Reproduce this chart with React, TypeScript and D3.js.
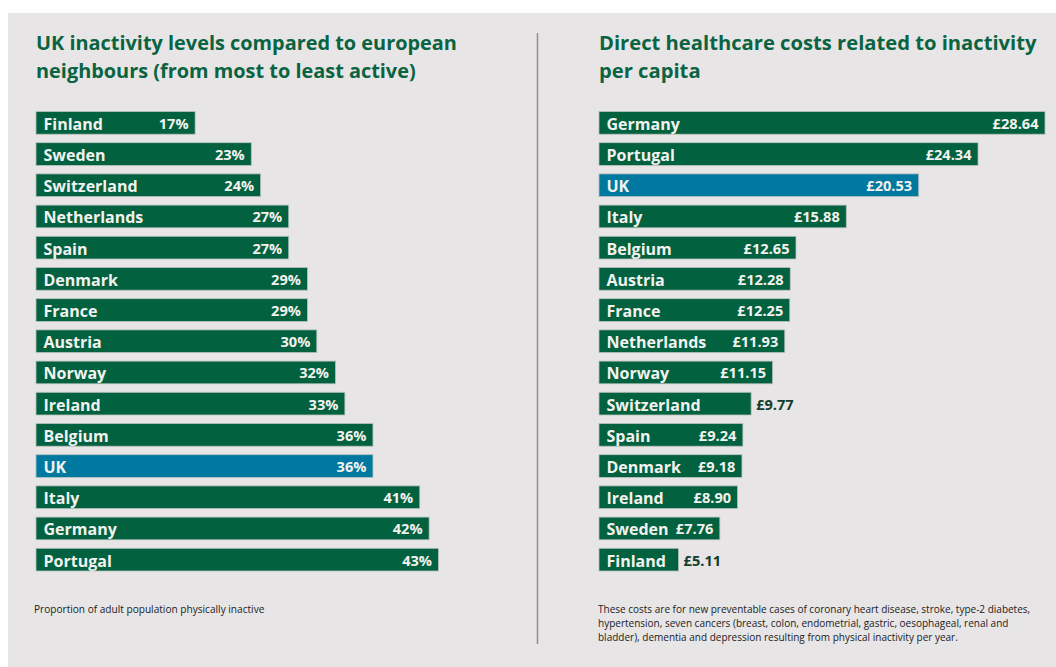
import React from "react";
import * as d3 from "d3";

const leftCountries = ["Finland","Sweden","Switzerland","Netherlands","Spain","Denmark","France","Austria","Norway","Ireland","Belgium","UK","Italy","Germany","Portugal"];
const leftValues = [17,23,24,27,27,29,29,30,32,33,36,36,41,42,43];

const rightCountries = ["Germany","Portugal","UK","Italy","Belgium","Austria","France","Netherlands","Norway","Switzerland","Spain","Denmark","Ireland","Sweden","Finland"];
const rightValues = [28.64,24.34,20.53,15.88,12.65,12.28,12.25,11.93,11.15,9.77,9.24,9.18,8.90,7.76,5.11];

const leftTitle = ["UK inactivity levels compared to european", "neighbours (from most to least active)"];
const rightTitle = ["Direct healthcare costs related to inactivity", "per capita"];
const leftNote = ["Proportion of adult population physically inactive"];
const rightNote = [
  "These costs are for new preventable cases of coronary heart disease, stroke, type-2 diabetes,",
  "hypertension, seven cancers (breast, colon, endometrial, gastric, oesophageal, renal and",
  "bladder), dementia and depression resulting from physical inactivity per year.",
];

const FONT = "'Open Sans', 'Noto Sans', sans-serif";
const GREEN = "#02613f";
const BLUE = "#0078a0";
const TITLE = "#0a6341";
const BG = "#e7e5e6";

let ctx: CanvasRenderingContext2D | null = null;
function measure(text: string, size: number, weight = 700) {
  if (!ctx) ctx = document.createElement("canvas").getContext("2d");
  if (!ctx) return text.length * size * 0.6;
  ctx.font = `${weight} ${size}px ${FONT}`;
  return ctx.measureText(text).width;
}

function BarPanel({ countries, values, x0, width, max, fmt }: any) {
  const step = 31.2;
  const bw = 22.7;
  const y = d3.scaleBand<string>().domain(countries)
    .range([111.5, 111.5 + step * (countries.length - 1) + bw])
    .paddingInner(1 - bw / step).paddingOuter(0);
  const x = d3.scaleLinear().domain([0, max]).range([0, width]);
  const labelSize = 16;
  const valueSize = 14.6;
  return (
    <g>
      {countries.map((c: string, i: number) => {
        const v = values[i];
        const w = x(v);
        const top = y(c)!;
        const h = y.bandwidth();
        const label = fmt(v);
        const lw = measure(c, labelSize);
        const vw = measure(label, valueSize);
        const slack = w - (7.5 + lw + vw + 6.5);
        const inside = slack >= 7.15;
        return (
          <g key={c}>
            <rect x={x0} y={top} width={w} height={h} fill={c === "UK" ? BLUE : GREEN} stroke="#b8c2bc" strokeWidth={0.8} />
            <text x={x0 + 7.5} y={top + h - 4.5} fill="#f2f2ef" fontFamily={FONT} fontWeight={700} fontSize={labelSize}>{c}</text>
            <text x={inside ? x0 + w - 6.5 : x0 + w + 5} y={top + h - 5.5} textAnchor={inside ? "end" : "start"} fill={inside ? "#f2f2ef" : "#123d2c"} fontFamily={FONT} fontWeight={700} fontSize={valueSize}>{label}</text>
          </g>
        );
      })}
    </g>
  );
}

export default function App() {
  return (
    <svg width={1056} height={667} style={{ position: "absolute", left: 0, top: 0 }}>
      <rect x={0} y={0} width={1056} height={667} fill="#ffffff" />
      <rect x={8} y={13} width={1048} height={654} fill={BG} />
      <line x1={537.5} x2={537.5} y1={33} y2={644} stroke="#8f8f8f" strokeWidth={1.5} />
      {leftTitle.map((t, i) => (
        <text key={t} x={36} y={50 + i * 28} fill={TITLE} fontFamily={FONT} fontWeight={700} fontSize={19.9}>{t}</text>
      ))}
      {rightTitle.map((t, i) => (
        <text key={t} x={599} y={49.5 + i * 28} fill={TITLE} fontFamily={FONT} fontWeight={700} fontSize={20.2}>{t}</text>
      ))}
      <BarPanel countries={leftCountries} values={leftValues} x0={36} width={9.36 * 43} max={43} fmt={(v: number) => `${v}%`} />
      <BarPanel countries={rightCountries} values={rightValues} x0={599} width={446} max={28.64} fmt={(v: number) => `£${v.toFixed(2)}`} />
      {leftNote.map((t, i) => (
        <text key={t} x={34} y={612.5 + i * 14} fill="#222" fontFamily={FONT} fontSize={10.1}>{t}</text>
      ))}
      {rightNote.map((t, i) => (
        <text key={t} x={598} y={613 + i * 14.2} fill="#222" fontFamily={FONT} fontSize={10}>{t}</text>
      ))}
    </svg>
  );
}
